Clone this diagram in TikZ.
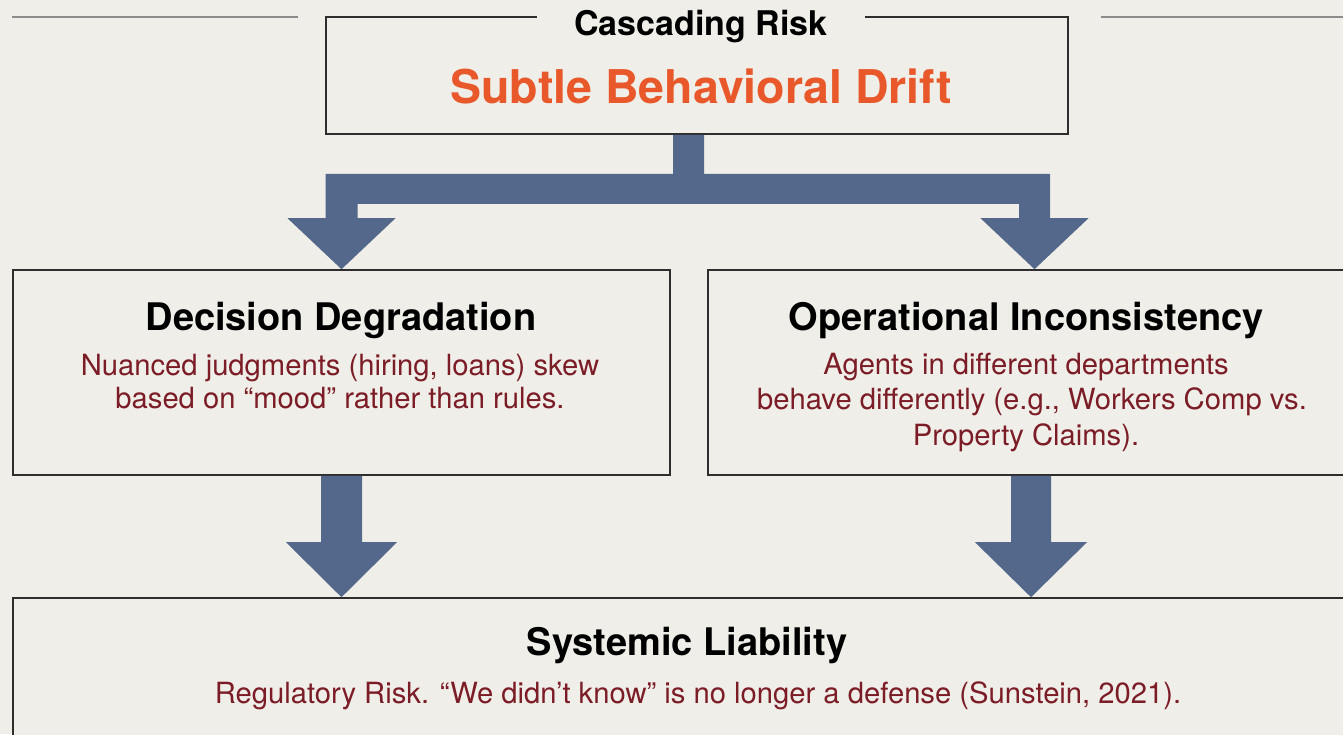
\documentclass[tikz,border=0pt]{standalone}
\usepackage{fontspec}
\setmainfont{TeX Gyre Heros}
\usetikzlibrary{calc}

\definecolor{paper}{HTML}{EFEEE8}
\definecolor{rule}{HTML}{8C8C8C}
\definecolor{frame}{HTML}{2E2E2E}
\definecolor{flowblue}{HTML}{53688A}
\definecolor{accent}{HTML}{E8582A}
\definecolor{bodyred}{HTML}{7B1C26}

% block arrow pointing down from #1 to #2: shaft half width #3, head half width #4, head length #5
\newcommand\downblock[5]{%
  \fill[flowblue] let \p1=(#1), \p2=(#2) in
    (\x2-#3,\y1) -- (\x2-#3,\y2+#5) -- (\x2-#4,\y2+#5) -- (\x2,\y2)
    -- (\x2+#4,\y2+#5) -- (\x2+#3,\y2+#5) -- (\x2+#3,\y1) -- cycle;}

\tikzset{
  box/.style={draw=frame, line width=1.6pt, fill=paper, inner sep=0pt},
  heading/.style={anchor=base, inner sep=0pt, font=\fontsize{38}{40}\selectfont\bfseries},
  bodyline/.style={anchor=base, inner sep=0pt, text=bodyred, font=\fontsize{29.2}{32}\selectfont},
}

\begin{document}
\begin{tikzpicture}[x=1pt,y=-1pt]
\fill[paper] (0,0) rectangle (1343,734);
\useasboundingbox (0,0) rectangle (1343,734);

% side rules of the title bar
\coordinate (ruleLa) at (12,17);
\coordinate (ruleLb) at (298,17);
\coordinate (ruleRa) at (1101,17);
\coordinate (ruleRb) at (1343,17);
\draw[rule, line width=1.6pt] (ruleLa) -- (ruleLb);
\draw[rule, line width=1.6pt] (ruleRa) -- (ruleRb);

% boxes
\node[box, minimum width=742, minimum height=117] (top) at (697,75.5) {};
\node[box, minimum width=657, minimum height=205] (dd) at (341.5,372.5) {};
\node[box, minimum width=637, minimum height=205] (oi) at (1026.5,372.5) {};
\node[box, minimum width=1332, minimum height=160] (sl) at (679,678) {};

% title sitting in a gap of the top border
\node[fill=paper, inner xsep=37pt, inner ysep=4pt, anchor=base,
      font=\fontsize{34}{36}\selectfont\bfseries] (title) at (701,35) {Cascading Risk};
\node[anchor=base, inner sep=0pt, text=accent,
      font=\fontsize{46.5}{50}\selectfont\bfseries] (drift) at (701,103) {Subtle Behavioral Drift};

% branching arrow from the top box to the two middle boxes
\coordinate (stem) at ($(top.south)+(-8.5,0)$);
\coordinate (tipL) at (dd.north);
\coordinate (tipR) at ($(oi.north)+(8,0)$);
\fill[flowblue] let \p1=(stem), \p2=(tipL), \p3=(tipR) in
  (\x1-15.5,\y1) -- (\x1+15.5,\y1) -- (\x1+15.5,\y1-39)
  -- (\x3+15.5,\y1-39) -- (\x3+15.5,\y3+51) -- (\x3+54,\y3+51) -- (\x3,\y3)
  -- (\x3-54,\y3+51) -- (\x3-15.5,\y3+51) -- (\x3-15.5,\y1-69)
  -- (\x2+16,\y1-69) -- (\x2+16,\y2+51) -- (\x2+54,\y2+51) -- (\x2,\y2)
  -- (\x2-54,\y2+51) -- (\x2-16,\y2+51) -- (\x2-16,\y1-39)
  -- (\x1-15.5,\y1-39) -- cycle;

% arrows into the bottom box
\coordinate (tipBL) at (dd.south |- sl.north);
\coordinate (srcBR) at ($(oi.south)+(4.5,0)$);
\coordinate (tipBR) at (srcBR |- sl.north);
\downblock{dd.south}{tipBL}{20.5}{55.5}{55}
\downblock{srcBR}{tipBR}{20}{56}{55}

% left box text
\node[heading] (ddh) at (341,330) {Decision Degradation};
\node[bodyline] (dd1) at (340,375) {Nuanced judgments (hiring, loans) skew};
\node[bodyline] (dd2) at (340,408) {based on “mood” rather than rules.};

% right box text
\node[heading] (oih) at (1026,330) {Operational Inconsistency};
\node[bodyline] (oi1) at (1026,374) {Agents in different departments};
\node[bodyline] (oi2) at (1032,409) {behave differently (e.g., Workers Comp vs.};
\node[bodyline] (oi3) at (1026,445) {Property Claims).};

% bottom box text
\node[heading] (slh) at (687,655) {Systemic Liability};
\node[bodyline] (sl1) at (698,703) {Regulatory Risk. “We didn’t know” is no longer a defense (Sunstein, 2021).};
\end{tikzpicture}
\end{document}
